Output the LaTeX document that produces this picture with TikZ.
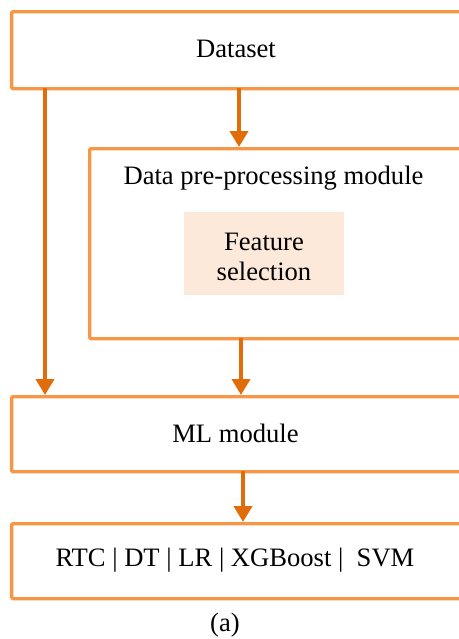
\documentclass[tikz,border=0pt]{standalone}
\usepackage{fontspec}
\setmainfont{Liberation Serif}
\usetikzlibrary{arrows.meta}
\definecolor{boxline}{HTML}{F79646}
\definecolor{arrline}{HTML}{E36C0A}
\definecolor{fsfill}{HTML}{FDE9D9}
\tikzset{
  modbox/.style={draw=boxline, line width=1.7pt, rounded corners=0.6pt, inner sep=0pt, anchor=north west},
  txt/.style={font=\fontsize{13.3}{15}\selectfont, inner sep=0pt, align=center},
  arr/.style={draw=arrline, line width=2.3pt, -{Triangle[width=9pt,length=8pt]}},
}
\begin{document}
\begin{tikzpicture}[x=0.5pt,y=-0.5pt]
\useasboundingbox (0,0) rectangle (459,639);
\clip (0,0) rectangle (459,639);
% boxes
\node[modbox, minimum width=227.5pt, minimum height=38.5pt] (ds) at (10,10) {};
\node[modbox, minimum width=188.5pt, minimum height=95pt] (pp) at (88,147) {};
\node[modbox, minimum width=227.5pt, minimum height=37.5pt] (ml) at (10,395) {};
\node[modbox, minimum width=227.5pt, minimum height=37.5pt] (out) at (10,522) {};
\node[fill=fsfill, minimum width=80pt, minimum height=41.5pt, inner sep=0pt] (fs) at (264,253.5) {};
% texts
\node[txt] (dst) at (236,48.5) {Dataset};
\node[txt] (ppt) at (273.5,178) {Data pre-processing module};
\node[txt] (fst) at (264,257) {Feature\\selection};
\node[txt] (mlt) at (235.5,433.5) {ML module};
\node[txt] (outt) at (235,560) {RTC | DT | LR | XGBoost |\ \ SVM};
\node[txt] (cap) at (225,625) {(a)};
% arrows
\draw[arr] ([xshift=17.5pt,yshift=1pt]ds.south west) -- ([xshift=17.5pt]ml.north west);
\draw[arr] ([xshift=114.5pt,yshift=1pt]ds.south west) -- ([xshift=75.5pt]pp.north west);
\draw[arr] ([xshift=76.5pt,yshift=1pt]pp.south west) -- ([xshift=115.5pt]ml.north west);
\draw[arr] ([xshift=116.5pt,yshift=1pt]ml.south west) -- ([xshift=116.5pt]out.north west);
\end{tikzpicture}
\end{document}
